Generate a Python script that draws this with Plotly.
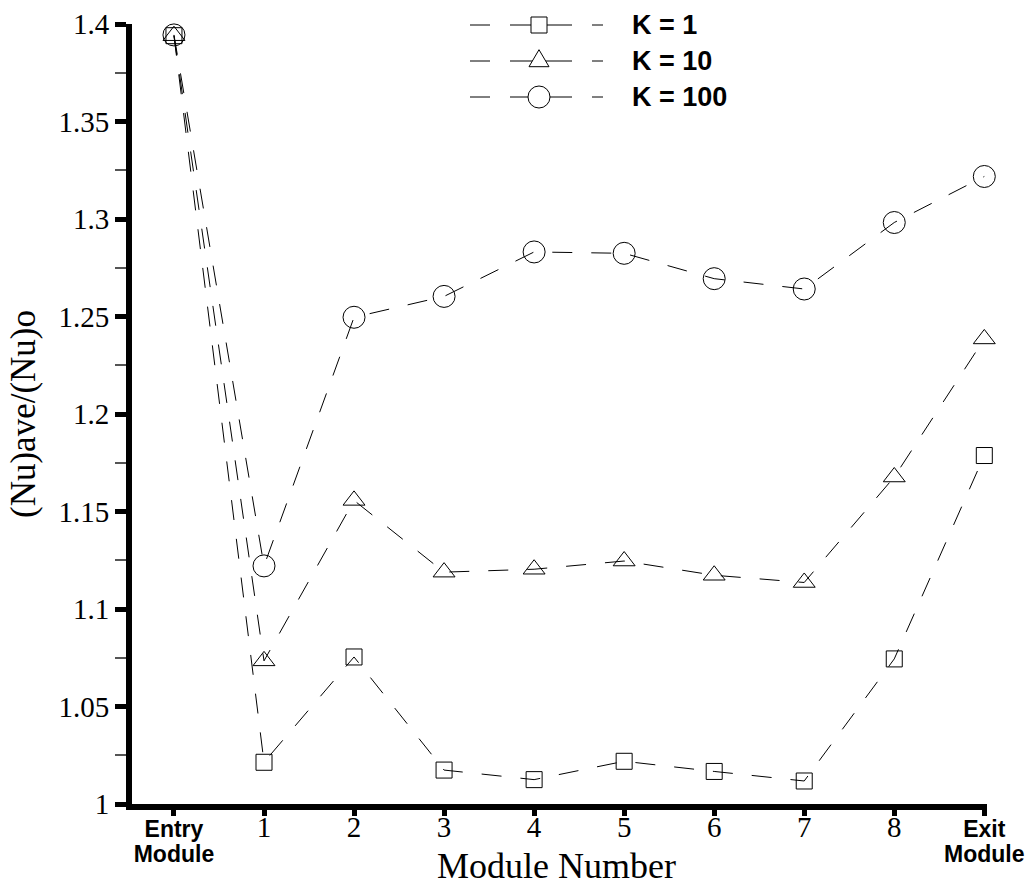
import plotly.graph_objects as go

# Module positions along the channel and their axis labels
modules = list(range(10))
module_labels = ["Entry<br>Module", "1", "2", "3", "4", "5", "6", "7", "8", "Exit<br>Module"]

# Average Nusselt number ratio per module for each conductivity ratio
nu_k1 = [1.394, 1.0214, 1.0754, 1.0174, 1.0125, 1.0219, 1.0167, 1.0118, 1.0744, 1.1787]
nu_k10 = [1.394, 1.0734, 1.1557, 1.1189, 1.1204, 1.1246, 1.1173, 1.1136, 1.1677, 1.2385]
nu_k100 = [1.3944, 1.1221, 1.2496, 1.2603, 1.2831, 1.2824, 1.2694, 1.2641, 1.2982, 1.3218]

series_names = ["K = 1", "K = 10", "K = 100"]

y_ticks = [1.0, 1.05, 1.1, 1.15, 1.2, 1.25, 1.3, 1.35, 1.4]
y_tick_text = ["1", "1.05", "1.1", "1.15", "1.2", "1.25", "1.3", "1.35", "1.4"]

# ---- page geometry (pixels) ----
FIG_W, FIG_H = 1029, 885
L, R, T, B = 132, 42, 24, 81
W = FIG_W - L - R
H = FIG_H - T - B


def px_x(px):
    return (px - L) / W


def px_y(py):
    return 1 - (py - T) / H


SERIF = "Liberation Serif, Times New Roman, serif"
SANS = "Liberation Sans, Arial, sans-serif"
DASH = "20px,19px"


def styled_tick(label):
    if "<br>" in label:
        return ("<span style=\"font-family:'Liberation Sans';font-size:23px\"><b>"
                + label + "</b></span>")
    return "<span style=\"font-size:29px\">" + label + "</span>"


fig = go.Figure()

styles = [
    (nu_k1, "square-open", 16),
    (nu_k10, "triangle-up-open", 19),
    (nu_k100, "circle-open", 22),
]
for (vals, sym, size), name in zip(styles, series_names):
    fig.add_trace(go.Scatter(
        x=modules, y=vals, name=name, mode="lines+markers",
        line=dict(color="black", width=1, dash=DASH),
        marker=dict(symbol=sym, size=size, color="black",
                    line=dict(color="black", width=1)),
        showlegend=False, cliponaxis=False,
    ))

# ---- key: dashed sample line, marker, and bold label per series ----
shapes = []
annotations = []
key_rows = [25, 61, 97]
key_x0, key_x1, key_mark = 470, 603, 539
for row, name, kind in zip(key_rows, series_names, ["square", "triangle", "circle"]):
    yp = px_y(row)
    shapes.append(dict(type="line", xref="paper", yref="paper",
                       x0=px_x(key_x0), x1=px_x(key_x1), y0=yp, y1=yp,
                       line=dict(color="black", width=1, dash="20px,20px,62px,20px,11px")))
    common = dict(xref="paper", yref="paper", xsizemode="pixel", ysizemode="pixel",
                  xanchor=px_x(key_mark), yanchor=yp,
                  line=dict(color="black", width=1), fillcolor="white")
    if kind == "square":
        shapes.append(dict(type="rect", x0=-8, x1=8, y0=-8, y1=8, **common))
    elif kind == "circle":
        shapes.append(dict(type="circle", x0=-11, x1=11, y0=-11, y1=11, **common))
    else:
        shapes.append(dict(type="path", path="M-10,-5.7L10,-5.7L0,11.3Z", **common))
    annotations.append(dict(xref="paper", yref="paper", x=px_x(630), y=yp,
                            xanchor="left", yanchor="middle", showarrow=False,
                            text="<b>" + name + "</b>",
                            font=dict(family=SANS, size=27, color="black")))

annotations.append(dict(xref="paper", yref="paper", x=px_x(556), y=px_y(866),
                        xanchor="center", yanchor="middle", showarrow=False,
                        text="Module Number",
                        font=dict(family=SERIF, size=36, color="black")))

fig.update_layout(
    width=FIG_W, height=FIG_H,
    margin=dict(l=L, r=R, t=T, b=B, autoexpand=False),
    paper_bgcolor="white", plot_bgcolor="white",
    shapes=shapes, annotations=annotations,
    showlegend=False,
)

fig.update_xaxes(
    range=[-0.466, 9.03], showgrid=False, zeroline=False,
    showline=True, linecolor="black", linewidth=6,
    tickmode="array", tickvals=modules,
    ticktext=[styled_tick(s) for s in module_labels],
    ticks="outside", ticklen=6, tickwidth=5, tickcolor="black",
    tickangle=0, tickfont=dict(family=SERIF, size=19, color="black"),
    ticklabelstandoff=-2,
)

fig.update_yaxes(
    range=[1.0, 1.4], showgrid=False, zeroline=False,
    showline=True, linecolor="black", linewidth=6,
    tickmode="array", tickvals=y_ticks, ticktext=y_tick_text,
    ticks="outside", ticklen=11, tickwidth=5, tickcolor="black",
    tickfont=dict(family=SERIF, size=29, color="black"),
    minor=dict(dtick=0.025, tick0=1.0, ticks="outside", ticklen=11,
               tickwidth=1.5, tickcolor="#555555"),
    title=dict(text="(Nu)ave/(Nu)o", standoff=14,
               font=dict(family=SERIF, size=35, color="black")),
)

fig.write_html("out.html")
